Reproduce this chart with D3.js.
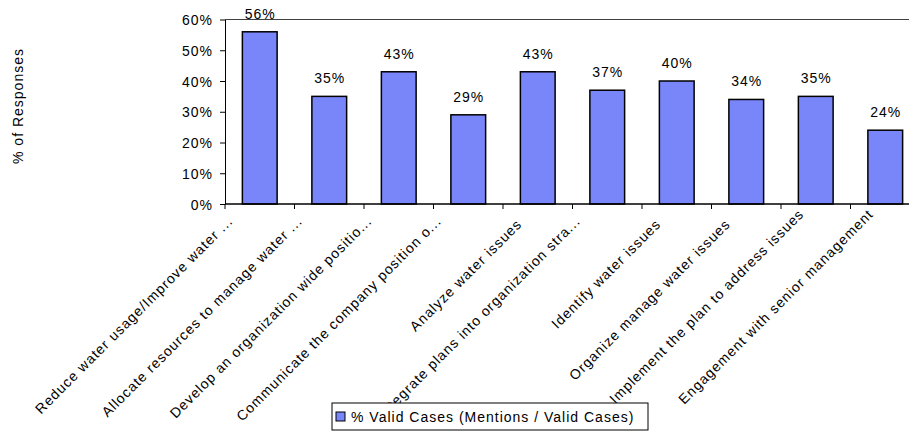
<!DOCTYPE html>
<html>
<head>
<meta charset="utf-8">
<script src="https://cdn.jsdelivr.net/npm/d3@7"></script>
<style>
  html, body { margin: 0; padding: 0; background: #fff; }
  svg { display: block; }
  text { font-family: "Liberation Sans", Arial, sans-serif; font-size: 14px; letter-spacing: 1px; fill: #000; }
</style>
</head>
<body>
<svg id="chart" width="909" height="431"></svg>
<script>
// Survey responses: share of valid cases mentioning each activity
const categories = [
  "Reduce water usage/Improve water ...",
  "Allocate resources to manage water ...",
  "Develop an organization wide positio...",
  "Communicate the company position o...",
  "Analyze water issues",
  "Integrate plans into organization stra...",
  "Identify water issues",
  "Organize manage water issues",
  "Implement the plan to address issues",
  "Engagement with senior management"
];
const values = [56, 35, 43, 29, 43, 37, 40, 34, 35, 24];
const yTicks = [0, 10, 20, 30, 40, 50, 60];
const seriesName = "% Valid Cases (Mentions / Valid Cases)";
const yTitle = "% of Responses";

const svg = d3.select("#chart");
const plot = { left: 225, right: 920, top: 19.5, bottom: 204 };

const x = d3.scaleBand()
  .domain(categories)
  .range([plot.left, plot.right])
  .paddingInner(0.5)
  .paddingOuter(0.25);

const y = d3.scaleLinear()
  .domain([0, 60])
  .range([plot.bottom, plot.top]);

// plot area frame (top edge visible)
svg.append("line")
  .attr("x1", plot.left).attr("x2", plot.right)
  .attr("y1", y(60)).attr("y2", y(60))
  .attr("stroke", "#404040").attr("stroke-width", 1);

// bars
svg.append("g").selectAll("rect")
  .data(values)
  .join("rect")
  .attr("x", (d, i) => x(categories[i]))
  .attr("y", d => y(d))
  .attr("width", x.bandwidth())
  .attr("height", d => y(0) - y(d))
  .attr("fill", "#7886F9")
  .attr("stroke", "#000")
  .attr("stroke-width", 1.5);

// value labels
svg.append("g").selectAll("text")
  .data(values)
  .join("text")
  .attr("x", (d, i) => x(categories[i]) + x.bandwidth() / 2 + 0.5)
  .attr("y", d => y(d) - 13)
  .attr("text-anchor", "middle")
  .text(d => d + "%");

// y axis
const yAxis = d3.axisLeft(y)
  .tickValues(yTicks)
  .tickFormat(d => d + "%")
  .tickSize(5)
  .tickSizeOuter(0)
  .tickPadding(7);
const gy = svg.append("g").attr("transform", `translate(${plot.left},0)`).call(yAxis);
gy.select(".domain").attr("stroke", "#000");
gy.selectAll(".tick line").attr("stroke", "#000");
gy.selectAll("text").attr("font-size", null).attr("font-family", null).attr("dy", "0.36em");

// x axis: ticks between categories
const boundaries = d3.range(categories.length + 1).map(i => plot.left + i * x.step());
const gx = svg.append("g");
gx.append("line")
  .attr("x1", plot.left).attr("x2", plot.right)
  .attr("y1", plot.bottom).attr("y2", plot.bottom)
  .attr("stroke", "#000").attr("stroke-width", 1.5);
gx.selectAll("line.tk")
  .data(boundaries)
  .join("line")
  .attr("class", "tk")
  .attr("x1", d => d).attr("x2", d => d)
  .attr("y1", plot.bottom).attr("y2", plot.bottom + 5)
  .attr("stroke", "#000");

// rotated category labels, clipped just under the axis;
// truncated labels sit a little further left, very long ones a little higher
function labelAnchor(d) {
  const cx = x(d) + x.bandwidth() / 2 - 15;
  if (d.endsWith("...")) return [cx - 11, 222];
  if (d.length > 30) return [cx + 4, 215];
  return [cx, 225];
}
svg.append("clipPath").attr("id", "lblclip")
  .append("rect").attr("x", 0).attr("y", 209).attr("width", 909).attr("height", 222);
svg.append("g").attr("clip-path", "url(#lblclip)")
  .selectAll("text")
  .data(categories)
  .join("text")
  .attr("text-anchor", "end")
  .attr("transform", d => { const [ax, ay] = labelAnchor(d); return `translate(${ax},${ay}) rotate(-45)`; })
  .text(d => d);

// y axis title
svg.append("text")
  .attr("transform", "translate(23,106) rotate(-90)")
  .attr("text-anchor", "middle")
  .text(yTitle);

// legend
const lg = svg.append("g").attr("transform", "translate(332,403)");
lg.append("rect")
  .attr("width", 316).attr("height", 27)
  .attr("fill", "#fff").attr("stroke", "#000");
lg.append("rect")
  .attr("x", 4).attr("y", 9).attr("width", 9).attr("height", 9)
  .attr("fill", "#7886F9").attr("stroke", "#000");
lg.append("text")
  .attr("x", 19).attr("y", 18.5)
  .text(seriesName);
</script>
</body>
</html>
